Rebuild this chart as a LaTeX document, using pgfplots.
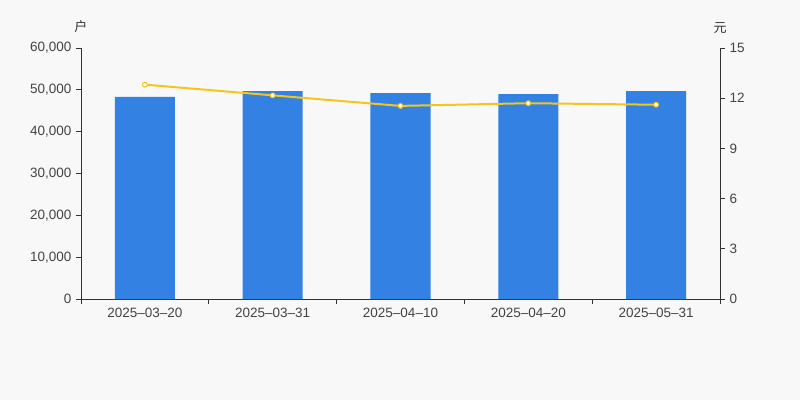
\documentclass[border=0pt]{standalone}
\usepackage{fontspec}
\setmainfont{Liberation Sans}
\newfontfamily\cjk{Noto Sans CJK SC}
\usepackage{pgfplots}
\pgfplotsset{compat=1.18}
\definecolor{bg}{HTML}{F8F8F8}
\definecolor{barblue}{HTML}{3381E3}
\definecolor{lineyellow}{HTML}{F5C518}
\definecolor{axisc}{HTML}{333333}
\definecolor{labc}{HTML}{444444}
\pgfplotsset{
  common/.style={
    at={(81pt,101pt)}, anchor=south west,
    scale only axis, width=639pt, height=251pt,
    xmin=-0.5, xmax=4.5, ymin=0,
    axis line style={-, axisc, line width=0.8pt},
    tick align=outside, major tick length=5pt,
    tick style={axisc, line width=0.8pt},
    ticklabel style={font=\fontsize{13.5}{15}\selectfont, text=labc},
    /pgf/number format/assume math mode=true,
    /pgf/number format/1000 sep={,},
    scaled y ticks=false,
    clip=false,
  }
}
\begin{document}
\begin{tikzpicture}
\fill[bg] (0pt,0pt) rectangle (800pt,400pt);
\begin{axis}[common,
  ymax=60000,
  axis y line*=left, axis x line*=bottom,
  ytick={0,10000,...,60000},
  xtick={0,1,2,3,4},
  xticklabels={2025--03--20,2025--03--31,2025--04--10,2025--04--20,2025--05--31},
  xtick style={draw=none},
  extra x ticks={-0.5,0.5,1.5,2.5,3.5,4.5},
  extra x tick labels={},
  extra x tick style={xtick style={draw=axisc, line width=0.8pt}},
  yticklabel style={xshift=-1pt},
  xticklabel style={yshift=-1pt},
]
\addplot[ybar, bar width=0.47, fill=barblue, draw=none] coordinates {
  (0,48290) (1,49720) (2,49240) (3,49000) (4,49720)
};
\node[font=\cjk\fontsize{13}{15}\selectfont, text=axisc] at (rel axis cs:0,1) [yshift=21pt] {户};
\end{axis}
\begin{axis}[common,
  ymax=15,
  axis y line*=right, axis x line=none,
  ytick={0,3,...,15},
  yticklabel style={xshift=1pt},
]
\addplot[lineyellow, line width=2pt, mark=*, mark size=2.4pt,
  mark options={fill=white, draw=lineyellow, line width=1pt}] coordinates {
  (0,12.81) (1,12.17) (2,11.54) (3,11.70) (4,11.61)
};
\node[font=\cjk\fontsize{13}{15}\selectfont, text=axisc] at (rel axis cs:1,1) [yshift=20pt] {元};
\end{axis}
\end{tikzpicture}
\end{document}
